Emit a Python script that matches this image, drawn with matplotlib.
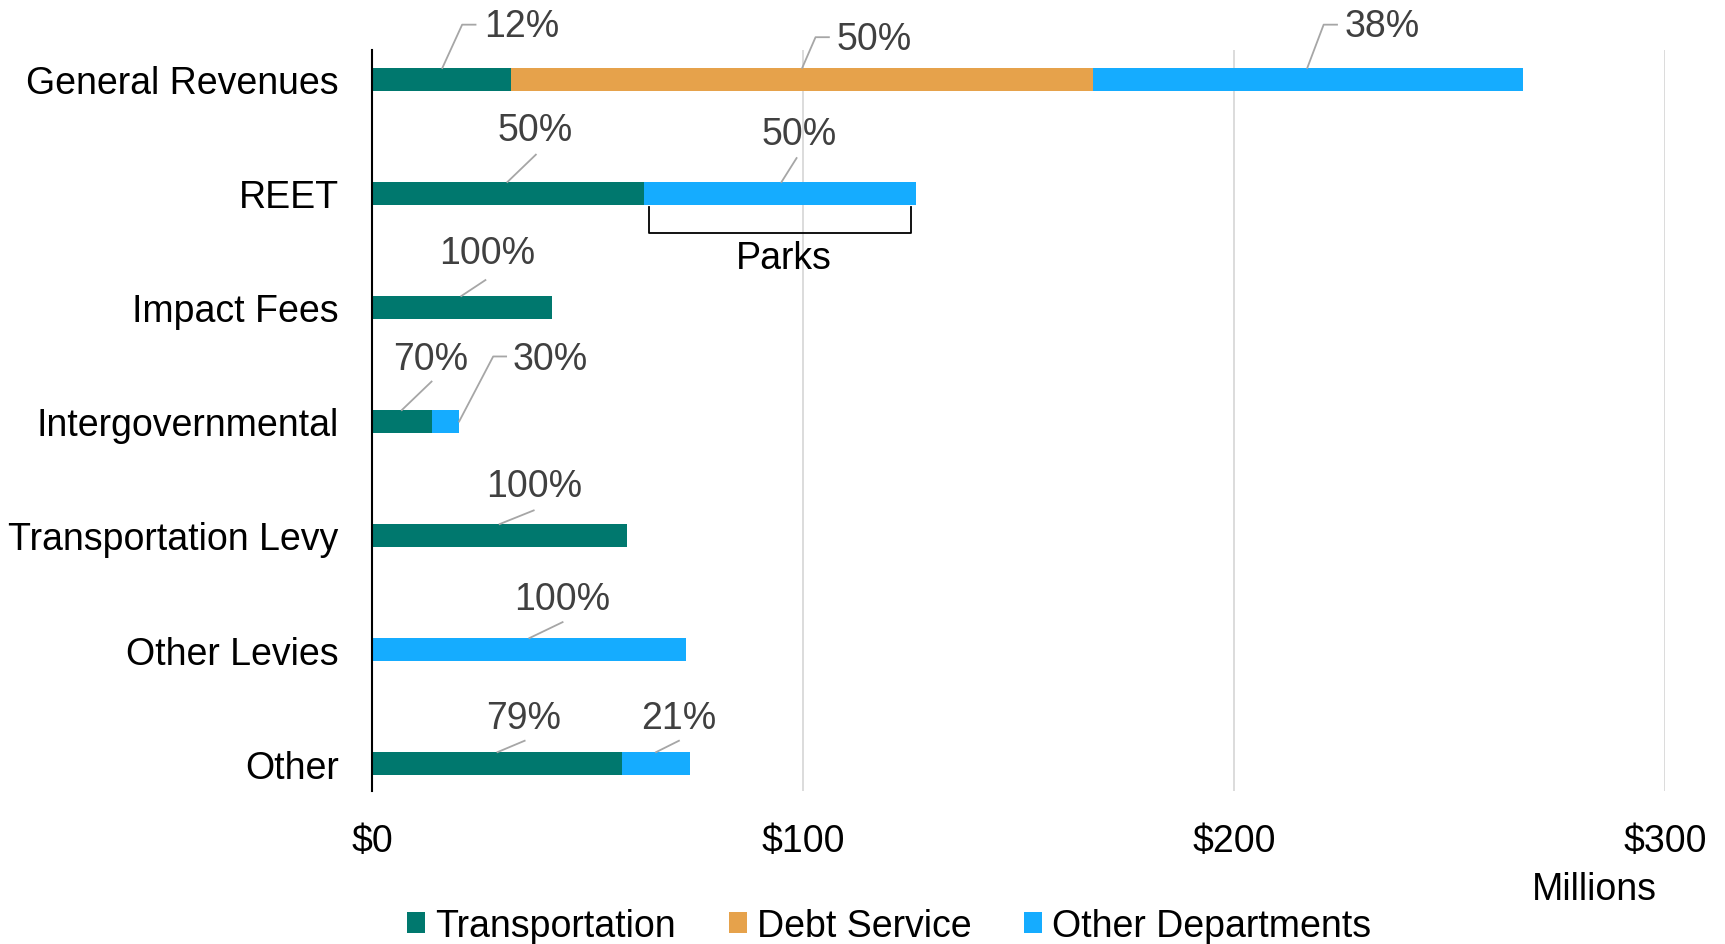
import numpy as np
import matplotlib.pyplot as plt

plt.rcParams["font.family"] = ["Liberation Sans", "DejaVu Sans"]

# Data (millions of dollars)
categories = ["General Revenues", "REET", "Impact Fees", "Intergovernmental",
              "Transportation Levy", "Other Levies", "Other"]
transportation = [32.3, 63.0, 41.8, 14.0, 59.2, 0.0, 58.0]
debt_service = [134.9, 0.0, 0.0, 0.0, 0.0, 0.0, 0.0]
other_departments = [99.9, 63.2, 0.0, 6.2, 0.0, 72.9, 15.7]
x_ticks = [0, 100, 200, 300]
x_tick_labels = ["$0", "$100", "$200", "$300"]

# Share labels as printed on the chart
share_labels = ["12%", "50%", "38%", "50%", "50%", "100%", "70%", "30%",
                "100%", "100%", "79%", "21%"]

# Callout layout: text centre, then leader line points (data units)
callout_layout = [
    ((34.7, -0.47), [(16.3, -0.10), (20.9, -0.48), (24.0, -0.48)]),
    ((116.4, -0.35), [(99.8, -0.10), (102.9, -0.37), (106.0, -0.37)]),
    ((234.4, -0.47), [(217.0, -0.10), (220.8, -0.48), (223.9, -0.48)]),
    ((37.8, 0.44), [(31.4, 0.90), (38.0, 0.66)]),
    ((99.1, 0.48), [(95.0, 0.90), (98.5, 0.69)]),
    ((26.6, 1.52), [(20.7, 1.90), (26.3, 1.76)]),
    ((13.5, 2.45), [(6.9, 2.90), (13.8, 2.65)]),
    ((41.4, 2.45), [(20.2, 3.00), (28.1, 2.43), (31.1, 2.43)]),
    ((37.5, 3.57), [(29.6, 3.90), (37.5, 3.78)]),
    ((44.2, 4.56), [(36.5, 4.90), (44.2, 4.76)]),
    ((35.2, 5.60), [(29.1, 5.90), (35.4, 5.80)]),
    ((71.2, 5.60), [(65.9, 5.90), (71.2, 5.80)]),
]

C_TRANS = "#00786E"
C_DEBT = "#E6A24B"
C_OTHER = "#15ACFF"
FS = 27

fig = plt.figure(figsize=(17.25, 9.45), dpi=100)
ax = fig.add_axes([0.2157, 0.162, 0.7495, 0.7843])

y = np.arange(len(categories))
h = 0.2
t = np.array(transportation)
d = np.array(debt_service)
o = np.array(other_departments)
ax.barh(y, t, height=h, color=C_TRANS, label="Transportation", zorder=3)
ax.barh(y, d, left=t, height=h, color=C_DEBT, label="Debt Service", zorder=3)
ax.barh(y, o, left=t + d, height=h, color=C_OTHER, label="Other Departments", zorder=3)

ax.set_xlim(0, 300)
ax.set_ylim(6.24, -0.26)
ax.set_xticks(x_ticks)
ax.set_xticklabels(x_tick_labels, fontsize=FS)
ax.set_yticks(y)
ax.set_yticklabels(categories, fontsize=FS)
ax.tick_params(axis="x", length=0, pad=23)
ax.tick_params(axis="y", length=0, pad=24)
ax.grid(axis="x", color="#d9d9d9", lw=1.3, zorder=0)
for s in ["top", "right", "bottom"]:
    ax.spines[s].set_visible(False)
ax.spines["left"].set_color("black")
ax.spines["left"].set_linewidth(1.5)
ax.spines["left"].set_zorder(4)

# Percentage callouts with leader lines
for label, (txy, pts) in zip(share_labels, callout_layout):
    xs, ys = zip(*pts)
    ax.plot(xs, ys, color="#a6a6a6", lw=1.3, clip_on=False, zorder=5)
    ax.text(txy[0], txy[1], label, fontsize=FS, color="#404040",
            ha="center", va="center", clip_on=False)

# Parks bracket under REET's other-departments segment
bx0, bx1 = 64.3, 125.1
by0, by1 = 1.115, 1.346
ax.plot([bx0, bx0, bx1, bx1], [by0, by1, by1, by0], color="black", lw=1.3,
        solid_joinstyle="round", zorder=5)
ax.text((bx0 + bx1) / 2 + 0.8, 1.57, "Parks", fontsize=FS, color="black",
        ha="center", va="center")

fig.text(0.924, 0.058, "Millions", fontsize=FS, ha="center", va="center")

fig.legend(loc="center", bbox_to_anchor=(0.5155, 0.019), ncol=3, frameon=False,
           fontsize=FS, handlelength=0.48, handleheight=0.48,
           handletextpad=0.27, columnspacing=1.4, borderpad=0)

fig.savefig("out.png", dpi=100)
